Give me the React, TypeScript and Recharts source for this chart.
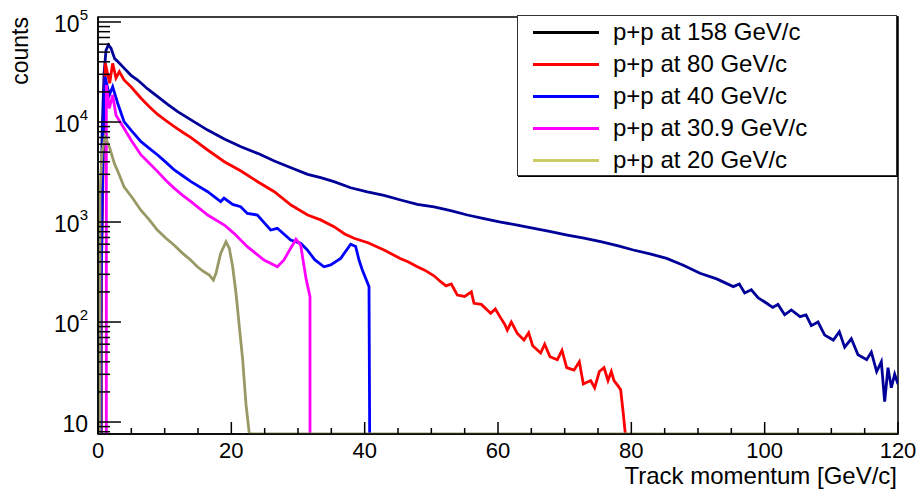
import React from 'react';
import { LineChart, Line, XAxis, YAxis, ReferenceArea, Legend } from 'recharts';

// ROOT-style momentum spectra, log y axis
const FONT = '"Liberation Sans", Arial, Helvetica, sans-serif';
const Y_MIN = 7.59;
const Y_MAX = 112200;

// empty bins are drawn on the frame bottom (7.6)
const p158 = [0.3, 0.3, 0.45, 0.6, 0.9, 1.2, 1.55, 1.95, 2.5, 3.0, 3.95, 4.95, 5.95, 7.45, 8.95, 10.45, 11.95, 13.95, 16.45, 18.95, 21.45, 23.95, 26.45, 28.95, 31.45, 33.4, 35.4, 37.9, 40.4, 42.9, 45.4, 47.9, 50.4, 52.9, 55.4, 57.9, 60.4, 62.9, 65.4, 67.9, 70.4, 72.9, 75.4, 77.9, 80.3, 82.8, 85.3, 87.8, 90.3, 92.8, 95.3, 96.2, 97, 98, 99, 100.3, 101.2, 102, 103, 104, 105.3, 106.2, 107, 108, 109, 110.3, 111.2, 112, 113, 114, 115.3, 116, 116.8, 117.5, 118, 118.5, 119, 119.5, 120];
const n158 = [7.6, 126, 126, 7000, 30000, 52000, 59000, 54600, 43000, 40100, 34400, 29300, 26300, 21400, 17900, 15000, 12700, 10500, 8300, 6760, 5660, 4860, 4070, 3490, 3000, 2780, 2530, 2200, 2000, 1850, 1660, 1500, 1420, 1300, 1175, 1080, 1000, 930, 865, 800, 740, 690, 636, 580, 525, 480, 433, 370, 307, 270, 226, 240, 195, 210, 175, 154, 140, 150, 118, 132, 113, 118, 92, 100, 74, 66, 80, 56, 68, 47, 42, 50, 32, 40, 16, 35, 22, 30, 24];

const p80 = [0.5, 0.5, 0.8, 1.1, 1.45, 1.75, 2.2, 2.7, 3.2, 3.9, 4.95, 6.45, 7.7, 8.95, 10.2, 11.45, 12.7, 13.95, 16.45, 18.95, 21.45, 23.95, 26.45, 28.95, 31.45, 33.4, 35.4, 37.0, 38.4, 40.5, 42.9, 45.4, 46.5, 47.9, 49, 50.4, 51.4, 52.2, 53, 53.9, 55, 56, 56.4, 57.5, 58.9, 59.6, 60.4, 61, 61.4, 62, 62.9, 63.9, 64.6, 65.2, 66.4, 67, 67.8, 68.9, 69.6, 70.3, 71.4, 72.2, 72.8, 73.9, 74.5, 75.2, 75.9, 76.5, 77, 77.4, 78, 78.4, 78.8, 79.1];
const n80 = [7.6, 300, 5000, 38600, 30000, 24400, 38600, 27500, 31900, 26300, 22500, 17300, 14200, 11900, 10300, 8980, 7900, 6970, 5250, 4010, 3240, 2530, 2010, 1480, 1175, 1050, 898, 760, 687, 620, 525, 430, 400, 357, 330, 290, 253, 230, 240, 186, 180, 200, 154, 150, 122, 135, 110, 95, 83, 100, 77, 66, 78, 58, 49, 60, 45, 42, 52, 35, 33, 40, 24, 26, 22, 32, 35, 26, 32, 26, 23, 21, 12, 7.6];

const p40 = [0.45, 0.45, 0.8, 1.05, 1.7, 2.2, 2.95, 3.9, 4.95, 6.45, 7.7, 8.95, 10.2, 11.45, 12.7, 13.95, 16.45, 18.4, 18.9, 20.2, 21.4, 22.4, 23.9, 25.9, 26.9, 28.9, 30.4, 31.4, 32.5, 33.9, 34.9, 36.4, 37.9, 38.65, 39.15, 39.65, 40.65, 40.75];
const n40 = [7.6, 200, 8000, 28400, 18600, 22500, 15400, 10100, 8300, 6360, 5450, 4680, 3950, 3310, 2900, 2530, 2010, 1600, 1730, 1500, 1420, 1220, 1175, 832, 865, 660, 612, 525, 420, 357, 372, 433, 600, 570, 417, 331, 226, 7.6];

const p31 = [1.25, 1.25, 1.7, 2.2, 2.7, 3.9, 4.95, 6.45, 7.7, 8.95, 10.2, 11.45, 12.7, 13.95, 16.45, 18.95, 20.4, 22.4, 24.9, 26.4, 26.9, 27.9, 28.7, 29.7, 30.4, 31.2, 31.8, 31.8];
const n31 = [7.6, 23400, 13700, 18600, 11700, 8650, 6600, 4680, 3860, 3190, 2600, 2170, 1850, 1600, 1175, 933, 770, 567, 417, 372, 357, 417, 520, 672, 589, 273, 179, 7.6];

const p20 = [0.3, 0.3, 0.6, 1.05, 1.7, 2.45, 3.2, 3.9, 5.2, 6.4, 7.7, 8.9, 10.2, 11.4, 12.7, 13.9, 14.9, 15.9, 16.7, 17.3, 17.7, 18.4, 19.2, 19.7, 20.2, 20.7, 21.2, 21.7, 22.2, 22.7, 120];
const n20 = [7.6, 1950, 5000, 7130, 5660, 3860, 2950, 2250, 1730, 1320, 1050, 832, 687, 589, 486, 417, 357, 318, 295, 263, 307, 486, 636, 545, 357, 194, 90, 42, 15, 7.6, 7.6];

const legendNames = ['p+p at 158 GeV/c', 'p+p at 80 GeV/c', 'p+p at 40 GeV/c', 'p+p at 30.9 GeV/c', 'p+p at 20 GeV/c'];
const legendColors = ['#000000', '#ff0000', '#0000ff', '#ff00ff', '#cccc66'];
const lineColors = ['#000099', '#ff0000', '#0000ff', '#ff00ff', '#999966'];

const xTicks = [0, 5, 10, 15, 20, 25, 30, 35, 40, 45, 50, 55, 60, 65, 70, 75, 80, 85, 90, 95, 100, 105, 110, 115, 120];
const yTicks = [
    8, 9, 10, 20, 30, 40, 50, 60, 70, 80, 90,
    100, 200, 300, 400, 500, 600, 700, 800, 900,
    1000, 2000, 3000, 4000, 5000, 6000, 7000, 8000, 9000,
    10000, 20000, 30000, 40000, 50000, 60000, 70000, 80000, 90000, 100000,
];

const toRows = (ps: number[], ns: number[]) => ps.map((p, i) => ({ p, n: ns[i] }));

const series = [
    toRows(p158, n158),
    toRows(p80, n80),
    toRows(p40, n40),
    toRows(p31, n31),
    toRows(p20, n20),
];

const XTick = (props: any) => {
    const { x, y, payload } = props;
    const major = payload.value % 20 === 0;
    return (
        <g>
            <line x1={x} x2={x} y1={y} y2={y - (major ? 12 : 6)} stroke="#000" strokeWidth={1.5} />
            {major && (
                <text x={x} y={y + 24} textAnchor="middle" fontSize={22} fontFamily={FONT} fill="#000">
                    {payload.value}
                </text>
            )}
        </g>
    );
};

const YTick = (props: any) => {
    const { x, y, payload } = props;
    const lg = Math.log10(payload.value);
    const exp = Math.round(lg);
    const major = Math.abs(lg - exp) < 1e-6;
    return (
        <g>
            <line x1={x} x2={x + (major ? 23 : 12)} y1={y} y2={y} stroke="#000" strokeWidth={1.5} />
            {major && (
                <text x={x - 10} y={y + 10} textAnchor="end" fontSize={23} fontFamily={FONT} fill="#000">
                    10
                    {exp > 1 && (
                        <tspan dy={-12} fontSize={15}>
                            {exp}
                        </tspan>
                    )}
                </text>
            )}
        </g>
    );
};

const LegendBox = () => (
    <div
        style={{
            boxSizing: 'border-box',
            width: 380,
            height: 161,
            border: '1px solid #333',
            boxShadow: '1px 1px 0 #000',
            background: '#fff',
            fontFamily: FONT,
            fontSize: 24,
            color: '#000',
            position: 'relative',
        }}>
        {legendNames.map((name, i) => (
            <div
                key={name}
                style={{
                    position: 'absolute',
                    left: 0,
                    top: 32 * i,
                    height: 32,
                    display: 'flex',
                    alignItems: 'center',
                    whiteSpace: 'nowrap',
                }}>
                <div style={{ marginLeft: 15, width: 66, height: 3, background: legendColors[i] }} />
                <span style={{ marginLeft: 14 }}>{name}</span>
            </div>
        ))}
    </div>
);

const App = () => {
    return (
        <div style={{ position: 'absolute', left: 0, top: 0, width: 921, height: 491, background: '#fff' }}>
            <LineChart width={921} height={491} margin={{ top: 17, right: 23, bottom: 0, left: 0 }}>
                <XAxis
                    type="number"
                    dataKey="p"
                    domain={[0, 120]}
                    allowDataOverflow
                    ticks={xTicks}
                    interval={0}
                    tick={<XTick />}
                    tickLine={false}
                    tickSize={0}
                    tickMargin={0}
                    height={57}
                    axisLine={{ stroke: '#000', strokeWidth: 1.5 }}
                    label={{
                        content: () => (
                            <text x={897} y={484} textAnchor="end" fontSize={24} fontFamily={FONT} fill="#000">
                                Track momentum [GeV/c]
                            </text>
                        ),
                    }}
                />
                <YAxis
                    type="number"
                    scale="log"
                    domain={[Y_MIN, Y_MAX]}
                    allowDataOverflow
                    ticks={yTicks}
                    interval={0}
                    tick={<YTick />}
                    tickLine={false}
                    tickSize={0}
                    tickMargin={0}
                    width={98}
                    axisLine={{ stroke: '#000', strokeWidth: 1.5 }}
                    label={{
                        content: () => (
                            <text
                                x={28}
                                y={17}
                                textAnchor="end"
                                fontSize={23}
                                fontFamily={FONT}
                                fill="#000"
                                transform="rotate(-90 28 17)">
                                counts
                            </text>
                        ),
                    }}
                />
                <ReferenceArea x1={0} x2={120} y1={Y_MIN} y2={Y_MAX} fill="none" stroke="#000" strokeWidth={1.5} />
                {series.map((rows, i) => (
                    <Line
                        key={legendNames[i]}
                        data={rows}
                        dataKey="n"
                        name={legendNames[i]}
                        type="linear"
                        stroke={lineColors[i]}
                        strokeWidth={2.8}
                        dot={false}
                        isAnimationActive={false}
                    />
                ))}
                <Legend
                    layout="horizontal"
                    verticalAlign="middle"
                    align="center"
                    wrapperStyle={{ left: 517, top: 15, width: 380, height: 161 }}
                    content={() => <LegendBox />}
                />
            </LineChart>
        </div>
    );
};

export default App;
